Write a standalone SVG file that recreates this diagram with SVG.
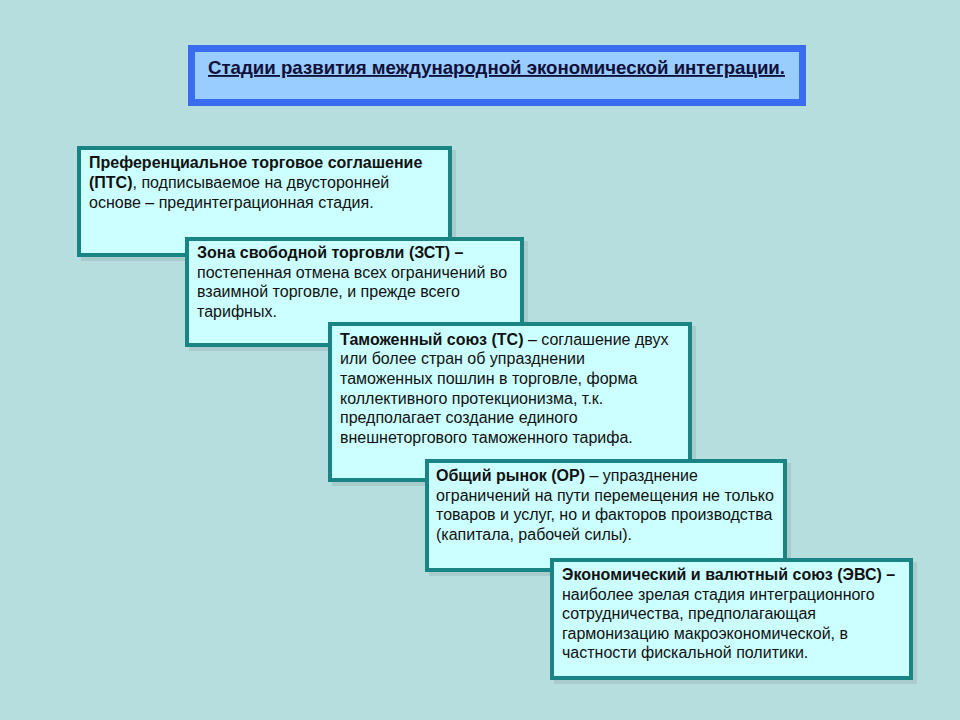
<svg xmlns="http://www.w3.org/2000/svg" width="960" height="720" viewBox="0 0 960 720">
<style>
.box{fill:#CCFFFF;stroke:#1A8484;stroke-width:4}
.sh{fill:#9EBFC0;opacity:0.6}
.t{font-family:"Liberation Sans",Arial,sans-serif;font-size:16px;fill:#111}
.b{font-weight:bold}
.title{font-family:"Liberation Sans",Arial,sans-serif;font-size:18.5px;font-weight:bold;fill:#10103A;text-decoration:underline}
</style>
<rect x="0" y="0" width="960" height="720" fill="#B6DEDF"/>
<g id="title">
<rect x="191.5" y="48.5" width="611" height="54" fill="#99CCFF" stroke="#3A6CF0" stroke-width="7"/>
<text class="title" x="208" y="74" textLength="577" lengthAdjust="spacingAndGlyphs">Стадии развития международной экономической интеграции.</text>
</g>
<g id="connectors"/>
<g id="pts">
<rect class="sh" x="81" y="150" width="375" height="111"/>
<rect class="box" x="79" y="148" width="371" height="107"/>
<text class="t" x="89" y="168"><tspan class="b">Преференциальное торговое соглашение</tspan></text>
<text class="t" x="89" y="188"><tspan class="b">(ПТС)</tspan>, подписываемое на двусторонней</text>
<text class="t" x="89" y="208">основе – прединтеграционная стадия.</text>
</g>
<g id="zst">
<rect class="sh" x="189" y="241" width="339" height="110"/>
<rect class="box" x="187" y="239" width="335" height="106"/>
<text class="t" x="197" y="258"><tspan class="b">Зона свободной торговли (ЗСТ) –</tspan></text>
<text class="t" x="197" y="278">постепенная отмена всех ограничений во</text>
<text class="t" x="197" y="297">взаимной торговле, и прежде всего</text>
<text class="t" x="197" y="317">тарифных.</text>
</g>
<g id="ts">
<rect class="sh" x="332" y="326" width="364" height="160"/>
<rect class="box" x="330" y="324" width="360" height="156"/>
<text class="t" x="340" y="345"><tspan class="b">Таможенный союз (ТС)</tspan> – соглашение двух</text>
<text class="t" x="340" y="364">или более стран об упразднении</text>
<text class="t" x="340" y="384">таможенных пошлин в торговле, форма</text>
<text class="t" x="340" y="404">коллективного протекционизма, т.к.</text>
<text class="t" x="340" y="423">предполагает создание единого</text>
<text class="t" x="340" y="443">внешнеторгового таможенного тарифа.</text>
</g>
<g id="or">
<rect class="sh" x="429" y="463" width="362" height="113"/>
<rect class="box" x="427" y="461" width="358" height="109"/>
<text class="t" x="436" y="481"><tspan class="b">Общий рынок (ОР)</tspan> – упразднение</text>
<text class="t" x="436" y="501">ограничений на пути перемещения не только</text>
<text class="t" x="436" y="520">товаров и услуг, но и факторов производства</text>
<text class="t" x="436" y="540">(капитала, рабочей силы).</text>
</g>
<g id="evs">
<rect class="sh" x="554" y="562" width="363" height="122"/>
<rect class="box" x="552" y="560" width="359" height="118"/>
<text class="t" x="562" y="580"><tspan class="b">Экономический и валютный союз (ЭВС) –</tspan></text>
<text class="t" x="562" y="600">наиболее зрелая стадия интеграционного</text>
<text class="t" x="562" y="619">сотрудничества, предполагающая</text>
<text class="t" x="562" y="639">гармонизацию макроэкономической, в</text>
<text class="t" x="562" y="658">частности фискальной политики.</text>
</g>
</svg>
